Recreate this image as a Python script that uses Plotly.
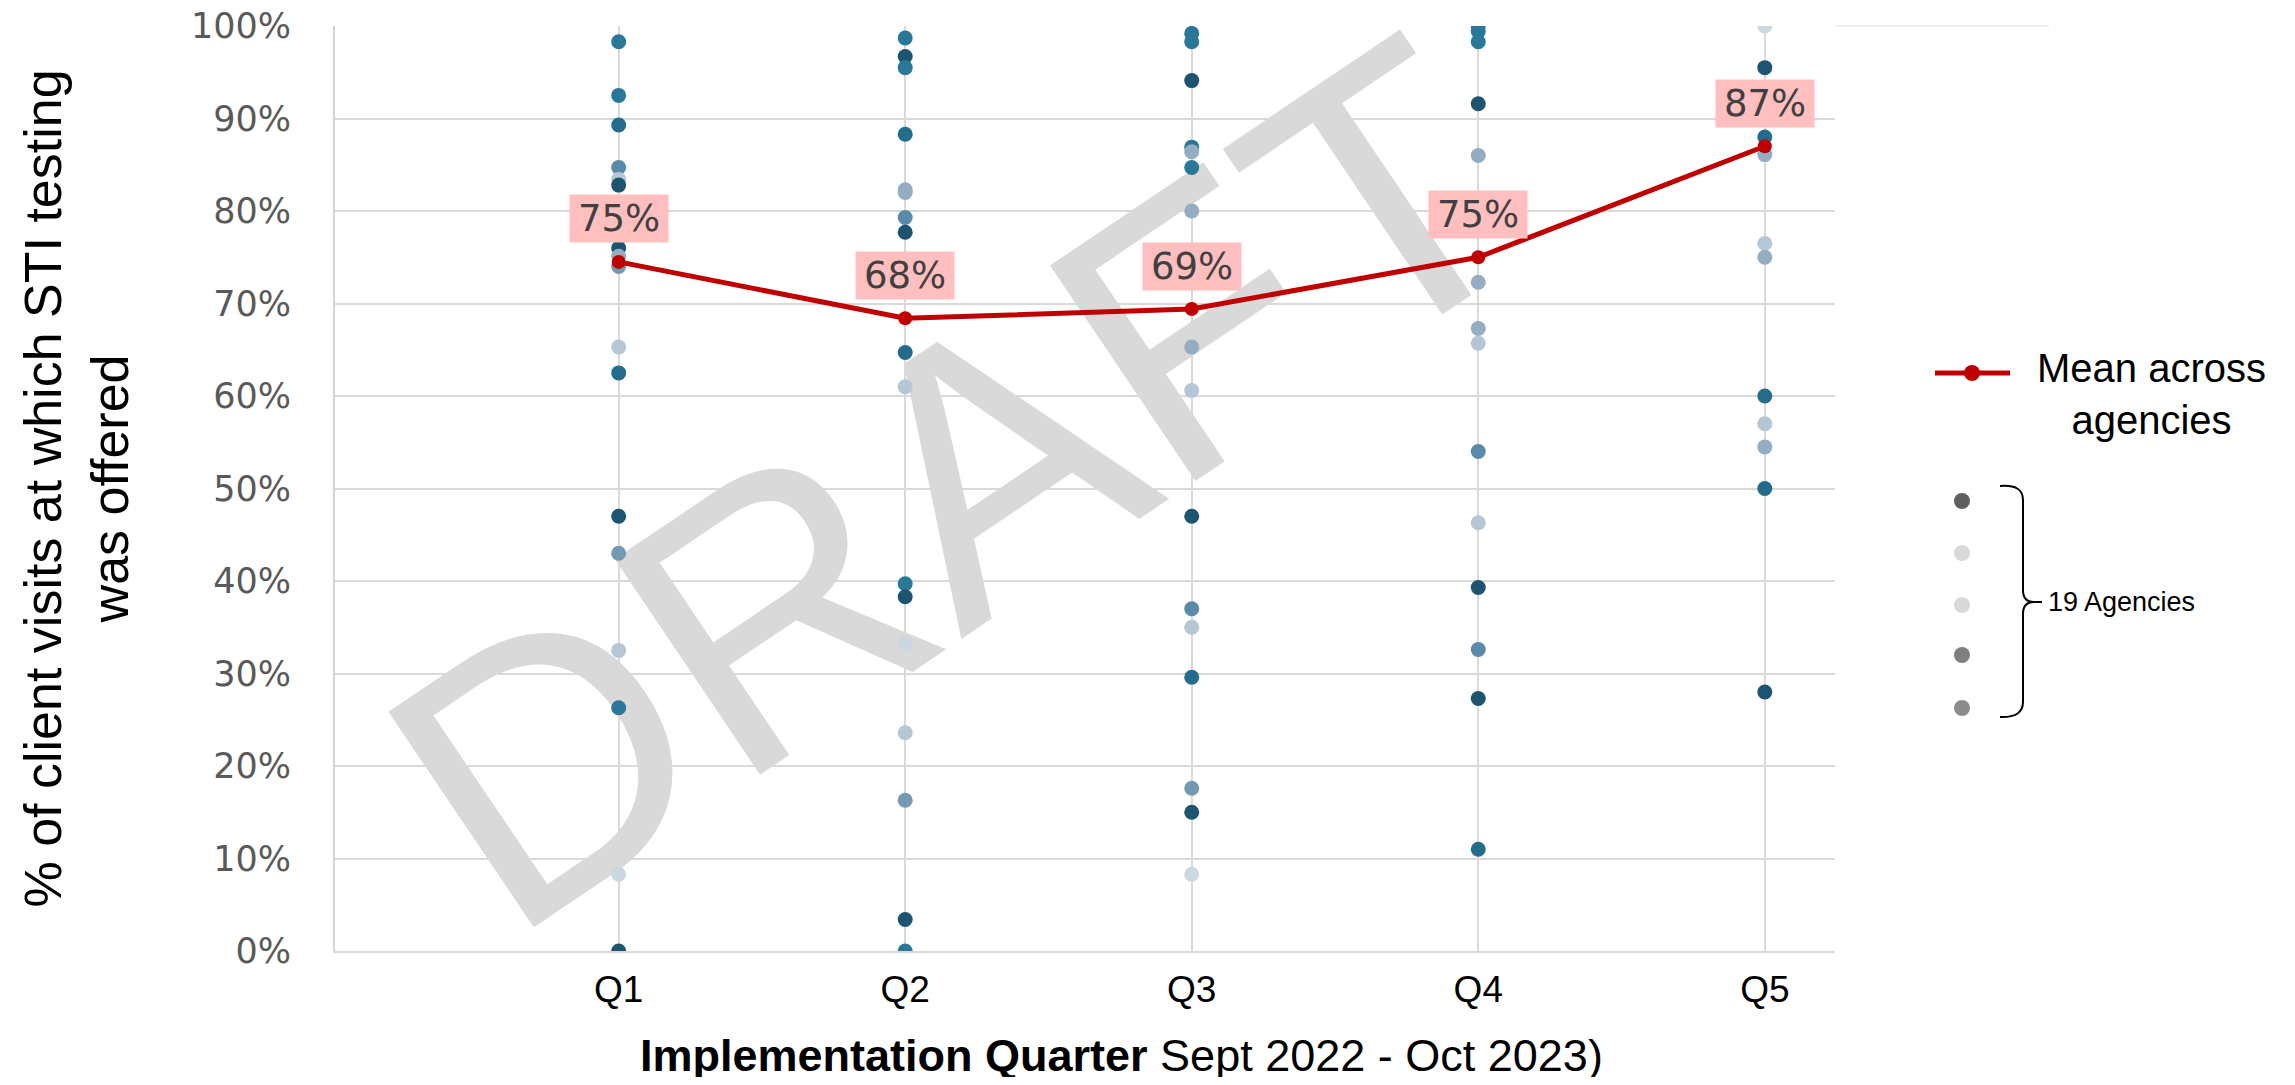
import plotly.graph_objects as go

# ---------------- data ----------------
quarters = ["Q1", "Q2", "Q3", "Q4", "Q5"]
mean_values = [74.5, 68.4, 69.4, 75.0, 87.0]
mean_labels = ["75%", "68%", "69%", "75%", "87%"]

q1_values = [98.3, 92.5, 89.3, 84.7, 83.4, 82.8, 76.0, 75.1, 74.0, 65.3, 62.5, 47.0, 43.0, 32.5, 26.3, 8.3, 0.0]
q2_values = [98.7, 96.7, 95.5, 88.3, 82.3, 82.0, 79.3, 77.7, 64.7, 61.0, 39.7, 38.3, 33.3, 23.6, 16.3, 3.4, 0.0]
q3_values = [99.2, 98.3, 94.1, 86.9, 86.4, 84.7, 80.0, 65.3, 60.6, 47.0, 37.0, 35.0, 29.6, 17.6, 15.0, 8.3]
q4_values = [100.0, 99.4, 98.3, 91.6, 86.0, 72.3, 67.3, 65.7, 54.0, 46.3, 39.3, 32.6, 27.3, 11.0]
q5_values = [100.0, 95.5, 88.0, 86.1, 76.5, 75.0, 60.0, 57.0, 54.5, 50.0, 28.0]

# shade code of each point (style, kept apart from values)
q1_shades = ["B", "B", "b", "M", "l", "D", "D", "L", "m", "l", "b", "D", "m", "l", "B", "v", "D"]
q2_shades = ["B", "D", "B", "b", "L", "L", "M", "D", "b", "l", "B", "D", "v", "l", "m", "D", "B"]
q3_shades = ["B", "B", "D", "B", "L", "B", "L", "L", "l", "D", "M", "l", "b", "m", "D", "v"]
q4_shades = ["B", "B", "B", "D", "L", "L", "L", "l", "M", "l", "D", "M", "D", "b"]
q5_shades = ["v", "D", "b", "L", "l", "L", "b", "l", "L", "b", "D"]

legend_dot_colors = ["#5f5f5f", "#d9d9d9", "#d9d9d9", "#7f7f7f", "#8c8c8c"]

SHADES = {
    "D": "#1d5470",
    "b": "#246c8c",
    "B": "#2a7899",
    "M": "#5a8aa9",
    "m": "#7399b3",
    "L": "#93adc1",
    "l": "#b5c7d4",
    "v": "#cad8e2",
}

# ---------------- geometry (page pixels -> paper coords) ----------------
BODY = 8                      # default page margin around the plot div
W, H = 2295 - 2 * BODY, 1085 - 2 * BODY
PL, PR, PT, PB = 335, 1835, 26, 951   # plot area in page pixels


def px(x):
    return (x - PL) / (PR - PL)


def py(y):
    return (PB - y) / (PB - PT)


fig = go.Figure()

all_vals = [q1_values, q2_values, q3_values, q4_values, q5_values]
all_shades = [q1_shades, q2_shades, q3_shades, q4_shades, q5_shades]
for q, vals, shades in zip(quarters, all_vals, all_shades):
    fig.add_trace(go.Scatter(
        x=[q] * len(vals), y=vals, mode="markers",
        marker=dict(size=15, color=[SHADES[s] for s in shades], line=dict(width=0)),
        showlegend=False, hoverinfo="y",
    ))

fig.add_trace(go.Scatter(
    x=quarters, y=mean_values, mode="lines+markers",
    line=dict(color="#c00000", width=5),
    marker=dict(size=14, color="#c00000"),
    name="Mean across agencies", showlegend=False,
))

annotations = []
for q, v, lab in zip(quarters, mean_values, mean_labels):
    annotations.append(dict(
        x=q, y=v, text=lab, showarrow=False, yshift=43,
        bgcolor="#ffbfbf", width=92, height=41, borderpad=3,
        font=dict(family="DejaVu Sans", size=37, color="#404040"),
    ))

# axis titles
annotations.append(dict(
    xref="paper", yref="paper", x=px(76), y=0.5, textangle=-90,
    text="% of client visits at which STI testing<br>was offered",
    showarrow=False, xanchor="center", yanchor="middle",
    font=dict(family="Liberation Sans", size=52, color="#000000"),
))
annotations.append(dict(
    xref="paper", yref="paper", x=px(1121), y=py(1055),
    text="<b>Implementation Quarter</b> Sept 2022 - Oct 2023)",
    showarrow=False, xanchor="center", yanchor="middle",
    font=dict(family="Liberation Sans", size=45, color="#000000"),
))

# legend (manual)
annotations.append(dict(
    xref="paper", yref="paper", x=px(2151), y=py(394),
    text="Mean across<br>agencies", showarrow=False, align="center",
    xanchor="center", yanchor="middle",
    font=dict(family="Liberation Sans", size=40, color="#000000"),
))
annotations.append(dict(
    xref="paper", yref="paper", x=px(2046), y=py(602),
    text="19 Agencies", showarrow=False, xanchor="left", yanchor="middle",
    font=dict(family="Liberation Sans", size=27, color="#000000"),
))

shapes = []
# DRAFT watermark
shapes.append(dict(
    type="rect", xref="paper", yref="paper",
    x0=px(927), x1=px(947), y0=py(464), y1=py(444),
    line=dict(width=0), fillcolor="rgba(0,0,0,0)", layer="below",
    label=dict(text="DRAFT", textangle=-34, textposition="middle center",
               font=dict(family="Liberation Sans", size=378, color="#d9d9d9")),
))
# legend line + marker
shapes.append(dict(type="line", xref="paper", yref="paper",
                   x0=px(1935), x1=px(2010), y0=py(373), y1=py(373),
                   line=dict(color="#c00000", width=5)))
shapes.append(dict(type="circle", xref="paper", yref="paper",
                   xsizemode="pixel", ysizemode="pixel",
                   xanchor=px(1972), yanchor=py(373),
                   x0=-8, x1=8, y0=-8, y1=8,
                   fillcolor="#c00000", line=dict(width=0)))
# grey agency dots
for cy, col in zip([501, 553, 605, 655, 708], legend_dot_colors):
    shapes.append(dict(type="circle", xref="paper", yref="paper",
                       xsizemode="pixel", ysizemode="pixel",
                       xanchor=px(1962), yanchor=py(cy),
                       x0=-8, x1=8, y0=-8, y1=8,
                       fillcolor=col, line=dict(width=0)))
# bracket
pts = lambda x, y: f"{px(x):.5f},{py(y):.5f}"
bracket = (f"M {pts(2000,486)} Q {pts(2023,484)} {pts(2023,500)} L {pts(2023,590)} "
           f"Q {pts(2023,602)} {pts(2034,602)} L {pts(2042,602)} "
           f"M {pts(2034,602)} Q {pts(2023,602)} {pts(2023,614)} L {pts(2023,702)} "
           f"Q {pts(2023,718)} {pts(2000,717)}")
shapes.append(dict(type="path", xref="paper", yref="paper", path=bracket,
                   line=dict(color="#000000", width=2)))
# extension of top gridline
shapes.append(dict(type="line", xref="paper", yref="paper",
                   x0=1, x1=px(2049), y0=1, y1=1,
                   line=dict(color="#ececec", width=1.5)))

fig.update_layout(
    width=W, height=H,
    margin=dict(l=PL - BODY, r=W - (PR - BODY), t=PT - BODY, b=H - (PB - BODY)),
    paper_bgcolor="white", plot_bgcolor="white",
    annotations=annotations, shapes=shapes,
    showlegend=False,
)
fig.update_xaxes(
    type="category", categoryorder="array", categoryarray=quarters,
    range=[-0.99, 4.245], automargin=False,
    showgrid=True, gridcolor="#d9d9d9", gridwidth=2,
    showline=True, linecolor="#d9d9d9", linewidth=2,
    ticks="", ticklabelstandoff=5,
    tickfont=dict(family="Liberation Sans", size=37, color="#000000"),
)
fig.update_yaxes(
    range=[0, 100], dtick=10, ticksuffix="%", automargin=False,
    showgrid=True, gridcolor="#d9d9d9", gridwidth=2,
    showline=True, linecolor="#d4d4d4", linewidth=2,
    zeroline=False, ticks="", ticklabelstandoff=35,
    ticklabeloverflow="allow",
    tickfont=dict(family="DejaVu Sans", size=35, color="#595959"),
)

fig.write_html("out.html")
